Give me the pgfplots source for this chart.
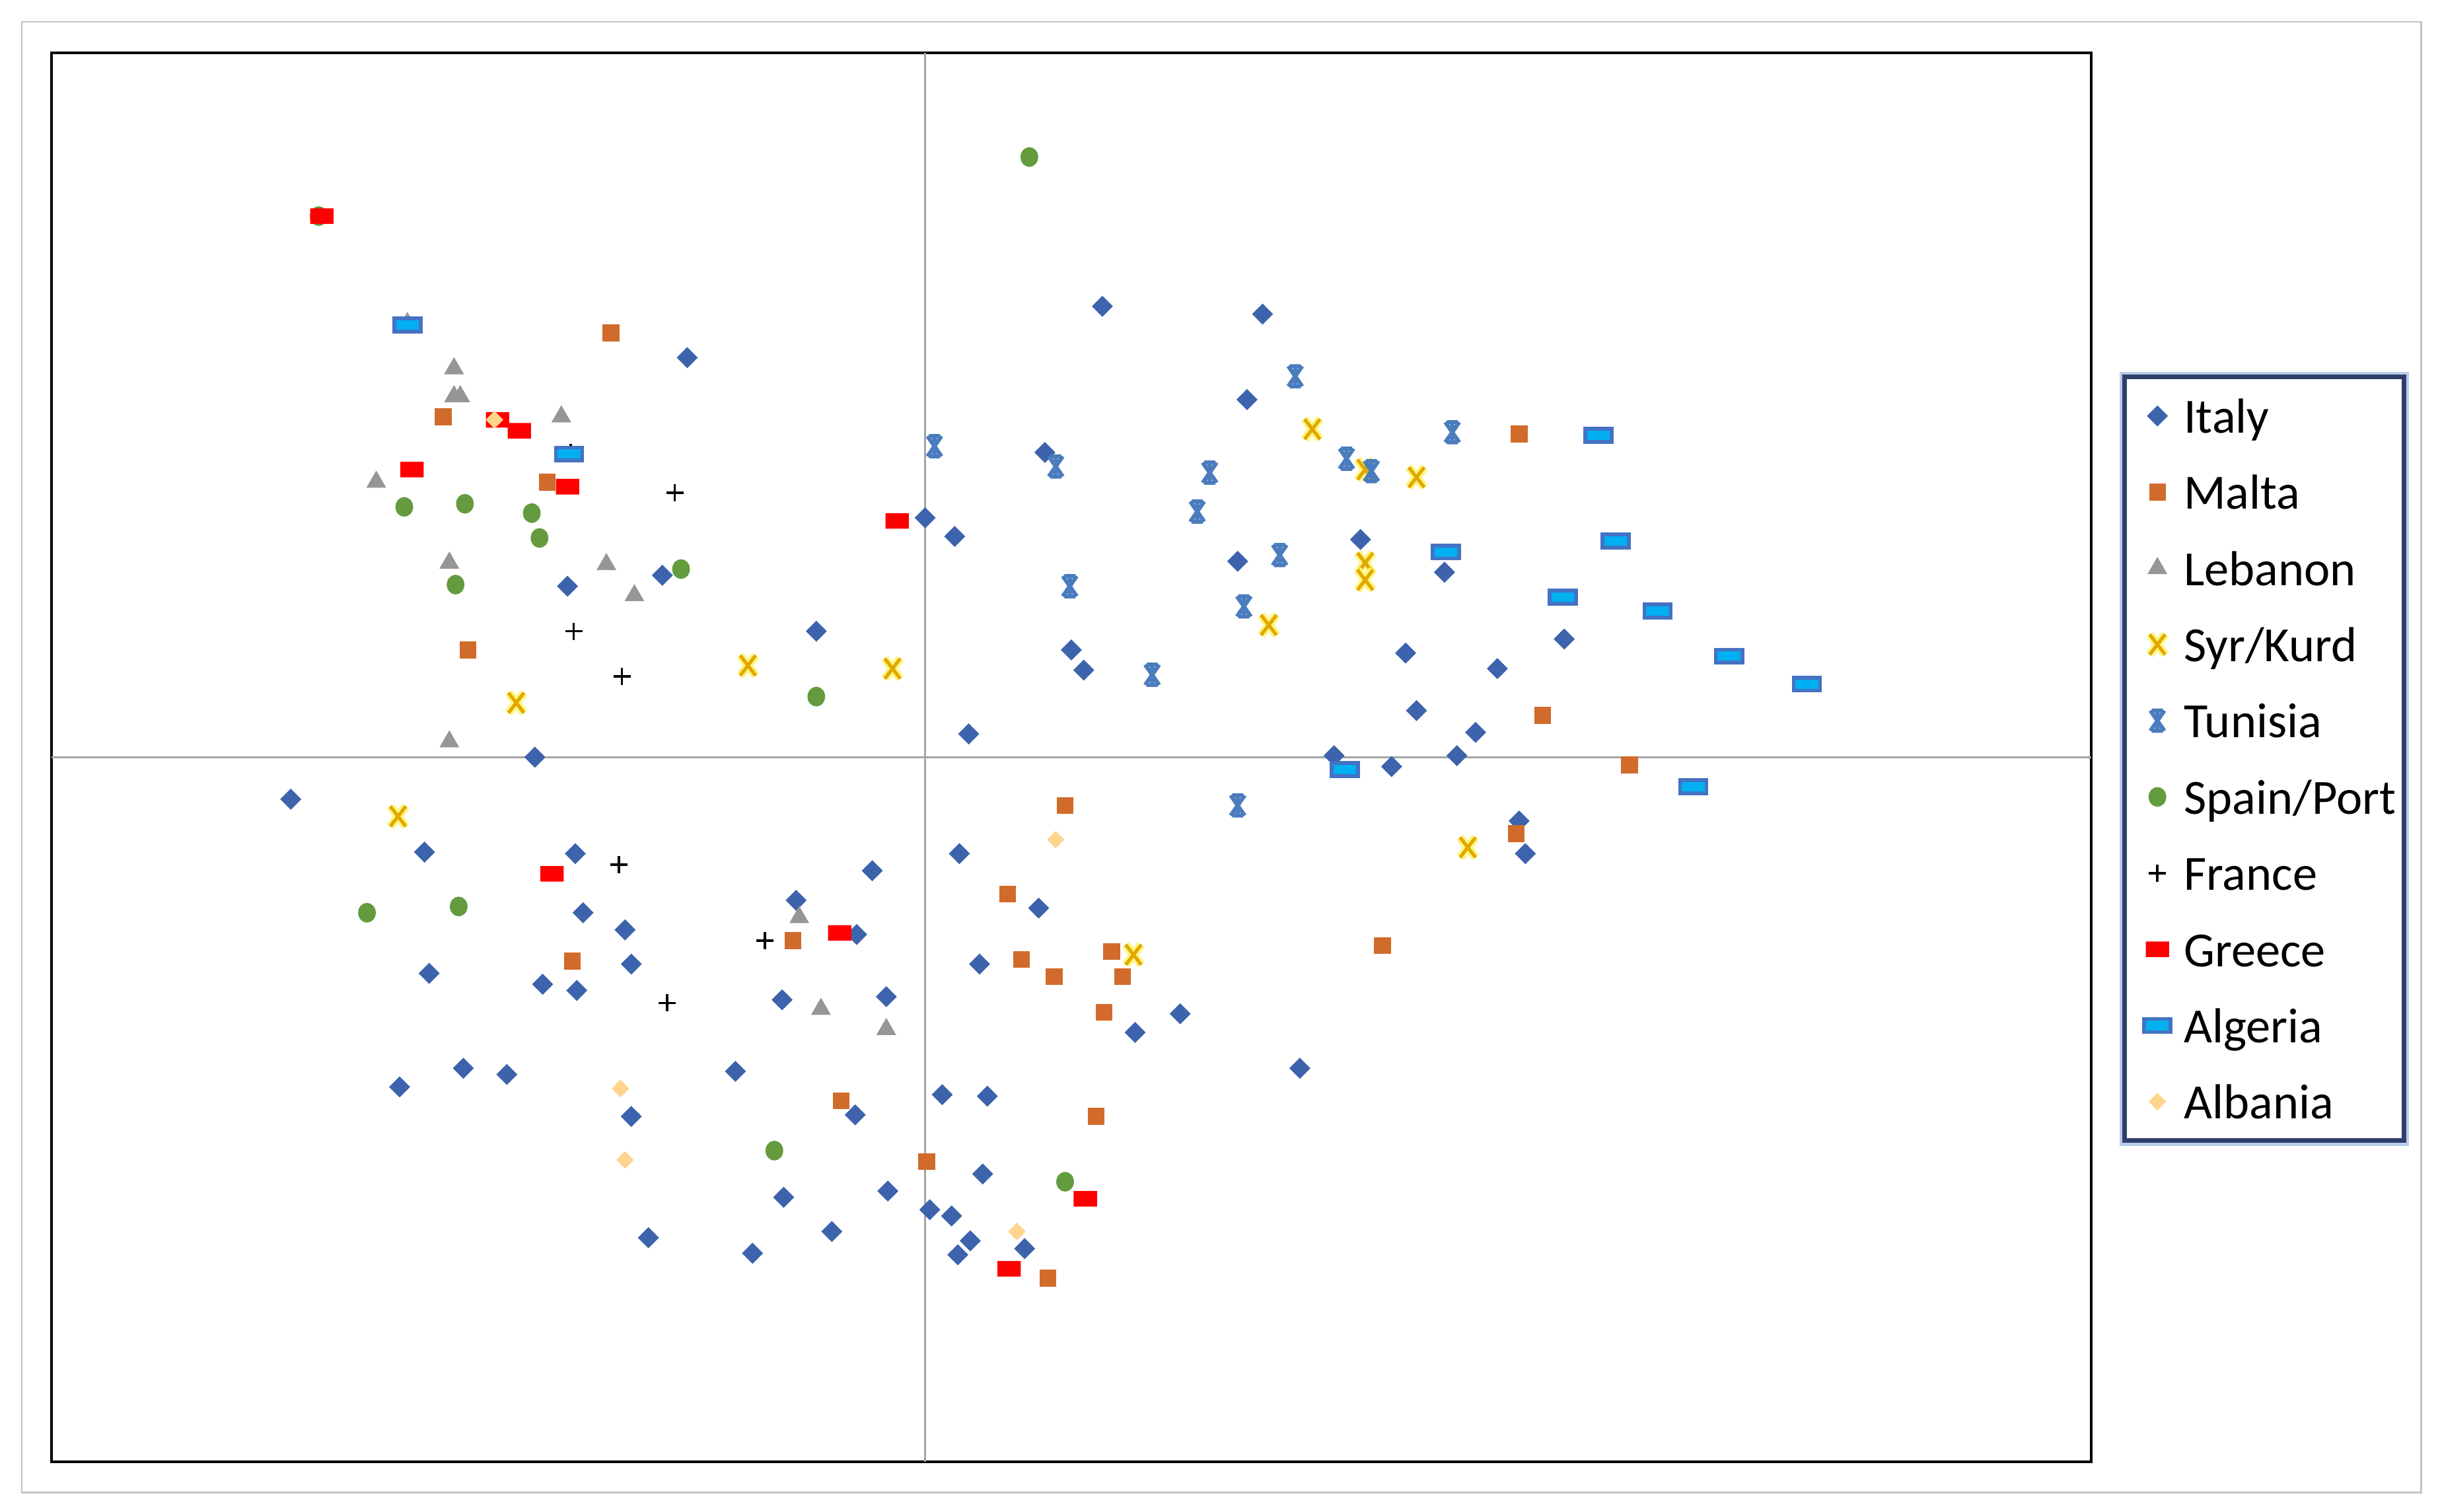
\documentclass[border=0pt]{standalone}
\usepackage{pgfplots}
\pgfplotsset{compat=1.18}
\usepackage{fontspec}
\setmainfont{Carlito}

\definecolor{italy}{RGB}{60,99,172}
\definecolor{malta}{RGB}{209,107,43}
\definecolor{lebanon}{RGB}{150,150,150}
\definecolor{syr}{RGB}{226,168,0}
\definecolor{syrglow}{RGB}{255,246,130}
\definecolor{tunisia}{RGB}{74,124,190}
\definecolor{spain}{RGB}{99,155,62}
\definecolor{greece}{RGB}{255,0,0}
\definecolor{algfill}{RGB}{0,176,240}
\definecolor{algedge}{RGB}{68,114,196}
\definecolor{albania}{RGB}{255,212,140}
\definecolor{legnavy}{RGB}{48,62,108}
\definecolor{legglow}{RGB}{185,204,236}
\definecolor{framegray}{RGB}{195,195,195}
\definecolor{crossgray}{RGB}{165,165,165}

% rounded box path, half width #1, half height #2
\newcommand\rbox[2]{%
  \pgfpathmoveto{\pgfqpoint{0mm}{-#2}}%
  \pgfpathlineto{\pgfqpoint{#1}{-#2}}%
  \pgfpathlineto{\pgfqpoint{#1}{#2}}%
  \pgfpathlineto{\pgfqpoint{-#1}{#2}}%
  \pgfpathlineto{\pgfqpoint{-#1}{-#2}}%
  \pgfpathclose}

% rounded red bar for Greece
\pgfdeclareplotmark{greece}{%
  \pgfsetcornersarced{\pgfqpoint{0.35mm}{0.35mm}}%
  \rbox{0.75mm}{0.5mm}%
  \pgfsetfillcolor{greece}%
  \pgfusepathqfill}
% cyan bar with blue edge for Algeria
\pgfdeclareplotmark{algeria}{%
  \pgfsetcornersarced{\pgfqpoint{0.25mm}{0.25mm}}%
  \rbox{0.85mm}{0.42mm}%
  \pgfsetfillcolor{algfill}\pgfsetstrokecolor{algedge}\pgfsetlinewidth{0.24mm}%
  \pgfusepathqfillstroke}
% gold cross with a yellow glow
\newcommand\xpath{%
  \pgfpathmoveto{\pgfqpoint{-0.5mm}{-0.65mm}}\pgfpathlineto{\pgfqpoint{0.5mm}{0.65mm}}%
  \pgfpathmoveto{\pgfqpoint{-0.5mm}{0.65mm}}\pgfpathlineto{\pgfqpoint{0.5mm}{-0.65mm}}}
\pgfdeclareplotmark{syr}{%
  \pgfsetlinewidth{0.55mm}\pgfsetstrokecolor{syrglow}%
  \xpath\pgfusepathqstroke
  \pgfsetlinewidth{0.22mm}\pgfsetstrokecolor{syr}%
  \xpath\pgfusepathqstroke}
% Excel style star for Tunisia
\pgfdeclareplotmark{tun}{%
  \pgfsetlinewidth{0.26mm}\pgfsetstrokecolor{tunisia}%
  \pgfpathmoveto{\pgfqpoint{-0.45mm}{-0.65mm}}\pgfpathlineto{\pgfqpoint{0.45mm}{0.65mm}}%
  \pgfpathmoveto{\pgfqpoint{-0.45mm}{0.65mm}}\pgfpathlineto{\pgfqpoint{0.45mm}{-0.65mm}}%
  \pgfpathmoveto{\pgfqpoint{0mm}{-0.65mm}}\pgfpathlineto{\pgfqpoint{0mm}{0.65mm}}%
  \pgfpathmoveto{\pgfqpoint{-0.35mm}{0.65mm}}\pgfpathlineto{\pgfqpoint{0.35mm}{0.65mm}}%
  \pgfpathmoveto{\pgfqpoint{-0.35mm}{-0.65mm}}\pgfpathlineto{\pgfqpoint{0.35mm}{-0.65mm}}%
  \pgfusepathqstroke}

\begin{document}
\begin{tikzpicture}
\useasboundingbox (0,0) rectangle (156.8mm,97.2mm);
\draw[framegray, line width=0.12mm] (1.4mm,1.2mm) rectangle (155.7mm,95.8mm);
\begin{axis}[
    at={(3.3mm,3.2mm)}, anchor=south west,
    scale only axis,
    width=131.2mm, height=90.6mm,
    xmin=-562, xmax=750, ymin=-453, ymax=453,
    xtick=\empty, ytick=\empty,
    extra x ticks={0}, extra y ticks={0},
    extra x tick labels={}, extra y tick labels={},
    extra tick style={grid=major, major tick length=0pt,
        major grid style={draw=crossgray, line width=0.1mm}},
    axis line style={line width=0.17mm, black},
    only marks,
    legend image code/.code={%
        \pgfpathmoveto{\pgfqpoint{0mm}{0mm}}%
        \pgfpathlineto{\pgfqpoint{3.3mm}{0mm}}%
        \pgfusepath{discard}%
        \draw[#1] plot coordinates {(1.6mm,0mm)};},
    legend cell align=left,
    legend style={
        at={(1.01524,0.7715)}, anchor=north west,
        draw=legnavy, line width=0.3mm,
        preaction={draw=legglow, line width=0.7mm},
        fill=white,
        inner xsep=0.5mm, inner ysep=0.4mm,
        font=\fontsize{9}{11}\selectfont,
        row sep=0.7mm,
        nodes={inner sep=0pt, text height=3.2mm, text depth=1.0mm},
    },
]
% Italy
\addplot[mark=square*, mark size=0.46mm, mark options={rotate=45, fill=italy, draw=italy, line width=0.1pt}] coordinates {
(-153,257) (114,290) (217,285) (207,230) (77,196) (0,154) (19,142) (280,140)
(334,119) (201,126) (-230,110) (-169,117) (-70,81) (94,69) (102,56) (309,67)
(368,57) (411,76) (316,30) (354,16) (28,15) (-251,0) (263,1) (300,-6) (342,1)
(-408,-27) (382,-41) (386,-62) (-322,-61) (-225,-62) (22,-62) (-34,-73)
(-83,-92) (73,-97) (-220,-100) (-193,-111) (-44,-114) (-319,-139) (-189,-133)
(35,-133) (-246,-146) (-224,-150) (-92,-156) (-25,-154) (164,-165) (135,-177)
(-297,-200) (-269,-204) (-122,-202) (241,-200) (-338,-212) (11,-217) (40,-218)
(-189,-231) (-45,-230) (37,-268) (-24,-279) (-91,-283) (3,-291) (17,-295)
(-60,-305) (-178,-309) (-111,-319) (29,-311) (21,-320) (64,-316)
};
\addlegendentry{Italy}
% Malta
\addplot[mark=square*, mark size=0.52mm, mark options={fill=malta, draw=malta, line width=0.1pt}] coordinates {
(-202,273) (-310,219) (-243,177) (382,208) (-294,69) (397,27) (453,-5) (90,-31)
(380,-49) (53,-88) (294,-121) (-85,-118) (120,-125) (-227,-131) (62,-130)
(83,-141) (127,-141) (115,-164) (-54,-221) (110,-231) (1,-260) (79,-335)
};
\addlegendentry{Malta}
% Lebanon
\addplot[mark=triangle*, mark size=0.7mm, mark options={fill=lebanon, draw=lebanon, line width=0.1pt}] coordinates {
(-333,279) (-303,250) (-303,232) (-299,232) (-234,219) (-353,177) (-306,125)
(-205,124) (-187,104) (-306,10) (-81,-103) (-67,-162) (-25,-175)
};
\addlegendentry{Lebanon}
% Syr/Kurd
\addplot[mark=syr] coordinates {
(249,211) (283,185) (316,180) (283,125) (283,114) (221,85) (-114,59) (-21,57)
(-263,35) (-339,-38) (349,-58) (134,-127)
};
\addlegendentry{Syr/Kurd}
% Tunisia
\addplot[mark=tun] coordinates {
(6,200) (84,187) (238,245) (183,183) (271,192) (287,184) (339,209) (175,158)
(228,130) (93,110) (205,97) (146,53) (201,-31)
};
\addlegendentry{Tunisia}
% Spain/Port
\addplot[mark=*, mark size=0.55mm, mark options={yscale=1.12, fill=spain, draw=spain, line width=0.1pt}] coordinates {
(-390,348) (67,386) (-335,161) (-296,163) (-253,157) (-248,141) (-302,111)
(-157,121) (-70,39) (-359,-100) (-300,-96) (-97,-253) (90,-273)
};
\addlegendentry{Spain/Port}
% France
\addplot[mark=+, mark size=0.55mm, mark options={draw=black, line width=0.15mm}] coordinates {
(-228,196) (-161,170) (-226,81) (-195,52) (-197,-69) (-103,-118) (-166,-158)
};
\addlegendentry{France}
% Greece
\addplot[mark=greece] coordinates {
(-388,348) (-275,217) (-261,210) (-330,185) (-230,174) (-18,152) (-240,-75)
(-55,-113) (103,-284) (54,-329)
};
\addlegendentry{Greece}
% Algeria
\addplot[mark=algeria] coordinates {
(-333,278) (-229,195) (433,207) (335,132) (444,139) (410,103) (471,94)
(517,65) (567,47) (270,-8) (494,-19)
};
\addlegendentry{Algeria}
% Albania
\addplot[mark=square*, mark size=0.38mm, mark options={rotate=45, fill=albania, draw=albania, line width=0.1pt}] coordinates {
(-277,217) (84,-53) (-196,-213) (-193,-259) (59,-305)
};
\addlegendentry{Albania}
\end{axis}
\end{tikzpicture}
\end{document}
